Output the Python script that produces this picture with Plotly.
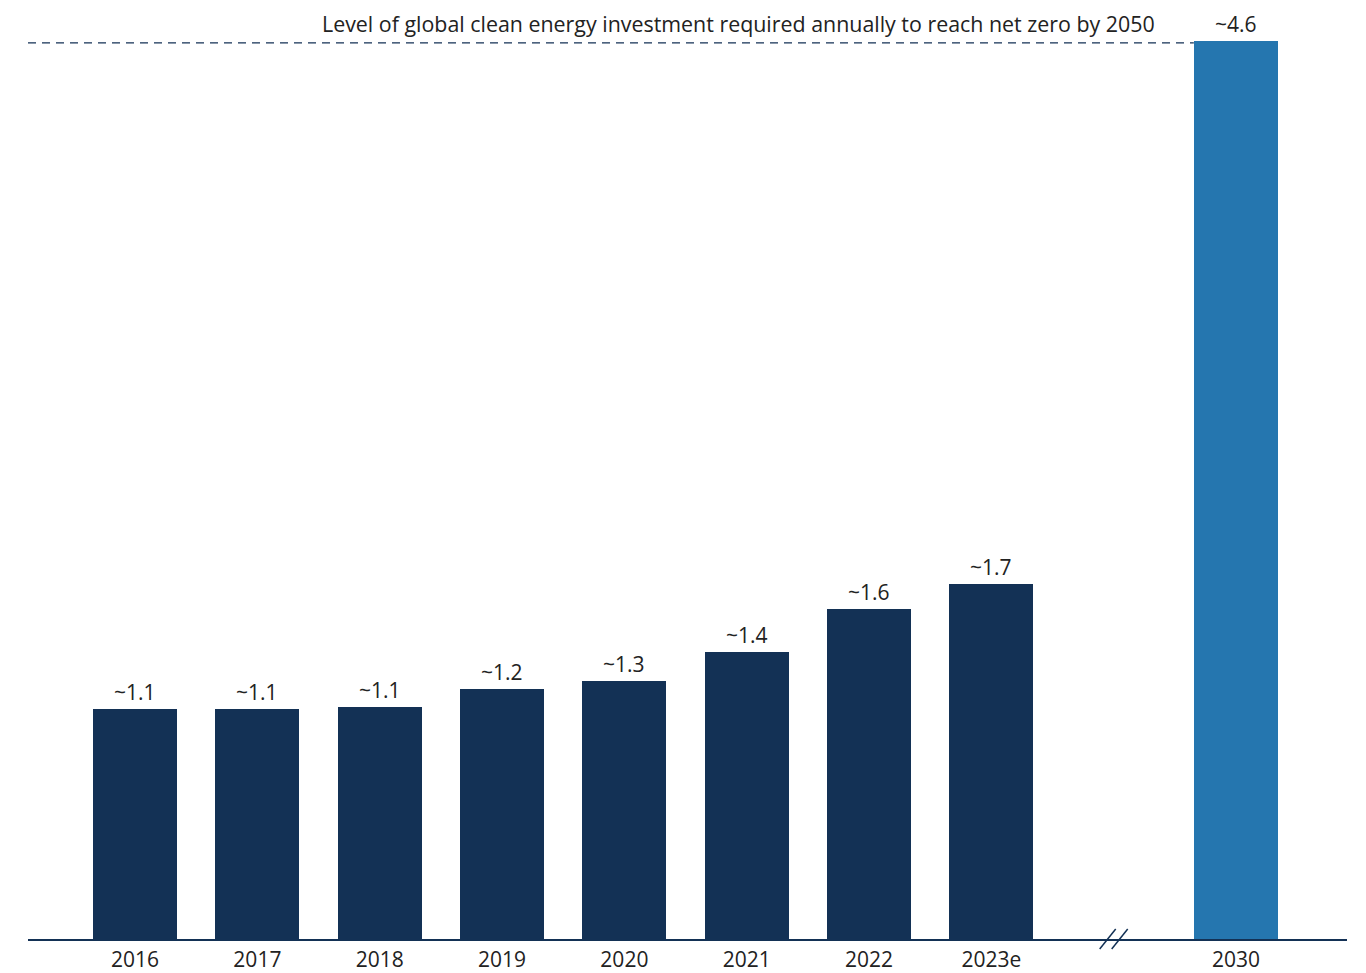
import plotly.graph_objects as go

categories = ["2016", "2017", "2018", "2019", "2020", "2021", "2022", "2023e", "2030"]
positions = [0, 1, 2, 3, 4, 5, 6, 7, 9]
values = [1.18, 1.18, 1.19, 1.28, 1.32, 1.47, 1.69, 1.82, 4.6]
labels = ["~1.1", "~1.1", "~1.1", "~1.2", "~1.3", "~1.4", "~1.6", "~1.7", "~4.6"]
bar_colors = ["#133155"] * 8 + ["#2576AF"]
title_text = "Level of global clean energy investment required annually to reach net zero by 2050"

NAVY = "#133155"
FONT = "Open Sans"
X_MIN, X_MAX = -0.875, 9.907
BREAK_POS = 8

fig = go.Figure()
fig.add_trace(go.Bar(
    x=positions, y=values, width=0.687,
    marker=dict(color=bar_colors, line=dict(width=0)),
    hoverinfo="skip", showlegend=False,
))

for p, v, t in zip(positions, values, labels):
    fig.add_annotation(x=p, y=v, xref="x", yref="y", text=t, showarrow=False,
                       yanchor="bottom", yshift=1,
                       font=dict(family=FONT, size=21, color="#222222"))

fig.add_annotation(x=8.35, y=4.6, xref="x", yref="y", text=title_text, showarrow=False,
                   xanchor="right", yanchor="bottom", yshift=1,
                   font=dict(family=FONT, size=21.4, color="#222222"))

# dashed reference line
fig.add_shape(type="line", xref="x", yref="y", x0=X_MIN, x1=9 - 0.345, y0=4.59, y1=4.59,
              line=dict(color=NAVY, width=1.2, dash="8px,6px"))

# axis break marks
break_paper = (BREAK_POS - X_MIN) / (X_MAX - X_MIN)
for dx in (-6, 6):
    fig.add_shape(type="line", xref="paper", yref="paper", xsizemode="pixel", ysizemode="pixel",
                  xanchor=break_paper, yanchor=0, x0=dx - 8, x1=dx + 8, y0=-10, y1=10,
                  line=dict(color=NAVY, width=1.5))

fig.update_layout(
    width=1366, height=973,
    margin=dict(l=28, r=19, t=41, b=34, autoexpand=False),
    paper_bgcolor="white", plot_bgcolor="white",
    font=dict(family=FONT, size=21, color="#222222"),
    bargap=0,
)
fig.update_xaxes(range=[X_MIN, X_MAX], tickvals=positions, ticktext=categories,
                 showline=True, linecolor=NAVY, linewidth=1.5, showgrid=False,
                 zeroline=False, ticks="", automargin=False, ticklabelstandoff=1,
                 tickfont=dict(family=FONT, size=21, color="#222222"))
fig.update_yaxes(range=[0, 4.6], visible=False, showgrid=False, zeroline=False, automargin=False)

fig.write_html("out.html")
